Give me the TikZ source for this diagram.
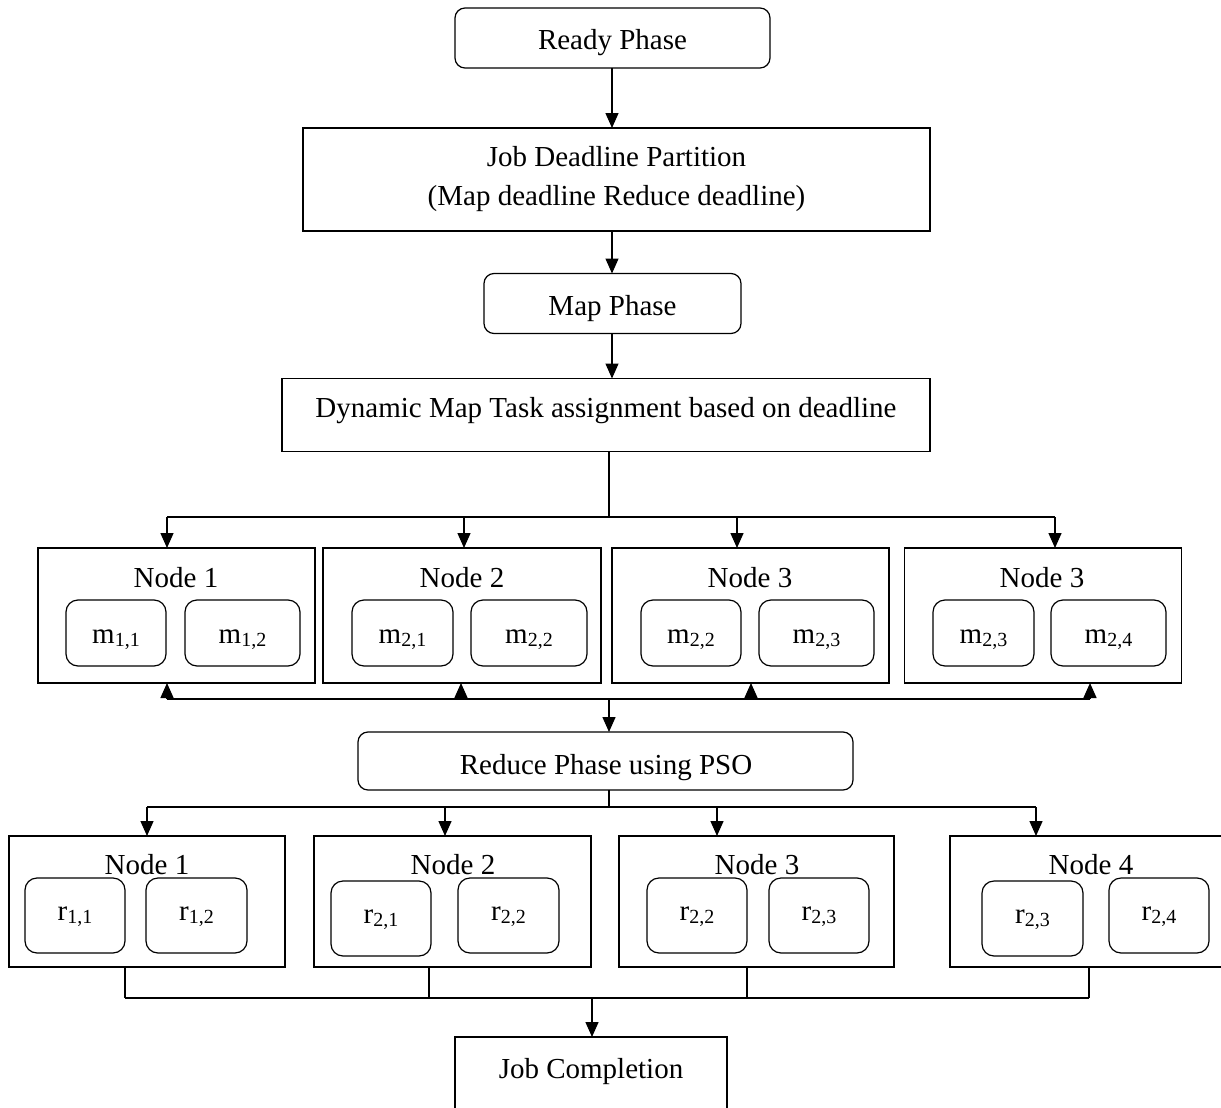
\documentclass[tikz,border=0pt]{standalone}
\usepackage{fontspec}
\setmainfont{Liberation Serif}
\usetikzlibrary{arrows.meta}
\newcommand\sbs[1]{\raisebox{-0.11em}{\fontsize{20}{20}\selectfont #1}}
\begin{document}
\begin{tikzpicture}[x=1pt,y=-1pt,
  every node/.style={font=\fontsize{29}{39}\selectfont, inner sep=0pt, outer sep=0pt},
  tx/.style={text height=25pt, text depth=5pt},
  sbox/.style={draw, line width=1.2pt},
  rbox/.style={draw, line width=1.2pt, rounded corners=10pt},
  task/.style={draw, line width=1.2pt, rounded corners=12pt, minimum height=66pt, tx},
  rtask/.style={draw, line width=1.2pt, rounded corners=12pt, minimum height=75pt, text height=15pt, text depth=5pt},
  nodebox/.style={draw, line width=1.2pt, minimum height=135pt},
  rnodebox/.style={draw, line width=1.2pt, minimum height=131pt},
  conn/.style={line width=1.2pt},
  arr/.style={line width=1.4pt, -{Triangle[length=15pt,width=13pt]}}
]
\useasboundingbox (0,0) rectangle (1221,1108);
\clip (0,0) rectangle (1221,1108);

% top chain
\node[rbox, minimum width=315pt, minimum height=60pt, text height=29pt, text depth=5pt] (ready) at (612.5,38) {Ready Phase};
\node[sbox, minimum width=627pt, minimum height=103pt, align=center] (jdp) at (616.5,179.5) {Job Deadline Partition\\(Map deadline Reduce deadline)};
\node[rbox, minimum width=257pt, minimum height=60pt, text height=28pt, text depth=5pt] (mapph) at (612.5,303.5) {Map Phase};
\node[sbox, minimum width=648pt, minimum height=73pt] (dyn) at (606,415) {};
\node[tx] (dyntxt) at (606,407) {Dynamic Map Task assignment based on deadline};

\draw[arr] (ready.south -| 612,0) -- (jdp.north -| 612,0);
\draw[arr] (jdp.south -| 612,0) -- (mapph.north -| 612,0);
\draw[arr] (mapph.south -| 612,0) -- (dyn.north -| 612,0);

% map nodes
\node[nodebox, minimum width=277pt] (M1) at (176.5,615.5) {};
\node[nodebox, minimum width=278pt] (M2) at (462,615.5) {};
\node[nodebox, minimum width=277pt] (M3) at (750.5,615.5) {};
\node[nodebox, minimum width=277pt] (M4) at (1043,615.5) {};
\node[tx] (M1t) at (176,577) {Node 1};
\node[tx] (M2t) at (462,577) {Node 2};
\node[tx] (M3t) at (750,577) {Node 3};
\node[tx] (M4t) at (1042,577) {Node 3};
\node[task, minimum width=100pt] (m11) at (116,633) {m\sbs{1,1}};
\node[task, minimum width=115pt] (m12) at (242.5,633) {m\sbs{1,2}};
\node[task, minimum width=101pt] (m21) at (402.5,633) {m\sbs{2,1}};
\node[task, minimum width=116pt] (m22) at (529,633) {m\sbs{2,2}};
\node[task, minimum width=100pt] (m22b) at (691,633) {m\sbs{2,2}};
\node[task, minimum width=115pt] (m23) at (816.5,633) {m\sbs{2,3}};
\node[task, minimum width=101pt] (m23b) at (983.5,633) {m\sbs{2,3}};
\node[task, minimum width=115pt] (m24) at (1108.5,633) {m\sbs{2,4}};

% split from dynamic
\coordinate (s1) at (609,517);
\coordinate (t1) at (167,517);
\coordinate (t2) at (464,517);
\coordinate (t3) at (737,517);
\coordinate (t4) at (1055,517);
\draw[conn] (dyn.south -| s1) -- (s1);
\draw[conn] (t1) -- (t4);
\draw[arr] (t1) -- (t1 |- M1.north);
\draw[arr] (t2) -- (t2 |- M2.north);
\draw[arr] (t3) -- (t3 |- M3.north);
\draw[arr] (t4) -- (t4 |- M4.north);

% join to reduce
\coordinate (u1) at (167,699);
\coordinate (u2) at (461,699);
\coordinate (u3) at (751,699);
\coordinate (u4) at (1090,699);
\coordinate (j2) at (609,699);
\draw[conn] (u1) -- (u4);
\draw[arr] (u1) -- (u1 |- M1.south);
\draw[arr] (u2) -- (u2 |- M2.south);
\draw[arr] (u3) -- (u3 |- M3.south);
\draw[arr] (u4) -- (u4 |- M4.south);

\node[rbox, minimum width=495pt, minimum height=58pt] (red) at (605.5,761) {};
\node[tx] (redtxt) at (606,764) {Reduce Phase using PSO};
\draw[arr] (j2) -- (j2 |- red.north);

% reduce nodes
\node[rnodebox, minimum width=276pt] (R1) at (147,901.5) {};
\node[rnodebox, minimum width=277pt] (R2) at (452.5,901.5) {};
\node[rnodebox, minimum width=275pt] (R3) at (756.5,901.5) {};
\node[rnodebox, minimum width=280pt] (R4) at (1090,901.5) {};
\node[tx] (R1t) at (147,864) {Node 1};
\node[tx] (R2t) at (453,864) {Node 2};
\node[tx] (R3t) at (757,864) {Node 3};
\node[tx] (R4t) at (1091,864) {Node 4};
\node[rtask, minimum width=100pt] (r11) at (75,915.5) {r\sbs{1,1}};
\node[rtask, minimum width=101pt] (r12) at (196.5,915.5) {r\sbs{1,2}};
\node[rtask, minimum width=100pt] (r21) at (381,918.5) {r\sbs{2,1}};
\node[rtask, minimum width=101pt] (r22) at (508.5,915.5) {r\sbs{2,2}};
\node[rtask, minimum width=100pt] (r22b) at (697,915.5) {r\sbs{2,2}};
\node[rtask, minimum width=100pt] (r23) at (819,915.5) {r\sbs{2,3}};
\node[rtask, minimum width=101pt] (r23b) at (1032.5,918.5) {r\sbs{2,3}};
\node[rtask, minimum width=100pt] (r24) at (1159,915.5) {r\sbs{2,4}};

\coordinate (s2) at (609,807);
\coordinate (v1) at (147,807);
\coordinate (v2) at (445,807);
\coordinate (v3) at (717,807);
\coordinate (v4) at (1036,807);
\draw[conn] (red.south -| s2) -- (s2);
\draw[conn] (v1) -- (v4);
\draw[arr] (v1) -- (v1 |- R1.north);
\draw[arr] (v2) -- (v2 |- R2.north);
\draw[arr] (v3) -- (v3 |- R3.north);
\draw[arr] (v4) -- (v4 |- R4.north);

% join to completion
\coordinate (b1) at (125,998);
\coordinate (b2) at (429,998);
\coordinate (b3) at (747,998);
\coordinate (b4) at (1089,998);
\coordinate (j3) at (592,998);
\draw[conn] (R1.south -| b1) -- (b1);
\draw[conn] (R2.south -| b2) -- (b2);
\draw[conn] (R3.south -| b3) -- (b3);
\draw[conn] (R4.south -| b4) -- (b4);
\draw[conn] (b1) -- (b4);

\node[sbox, minimum width=272pt, minimum height=90pt] (jc) at (591,1082) {};
\node[tx] (jctxt) at (591,1068) {Job Completion};
\draw[arr] (j3) -- (j3 |- jc.north);
\end{tikzpicture}
\end{document}
